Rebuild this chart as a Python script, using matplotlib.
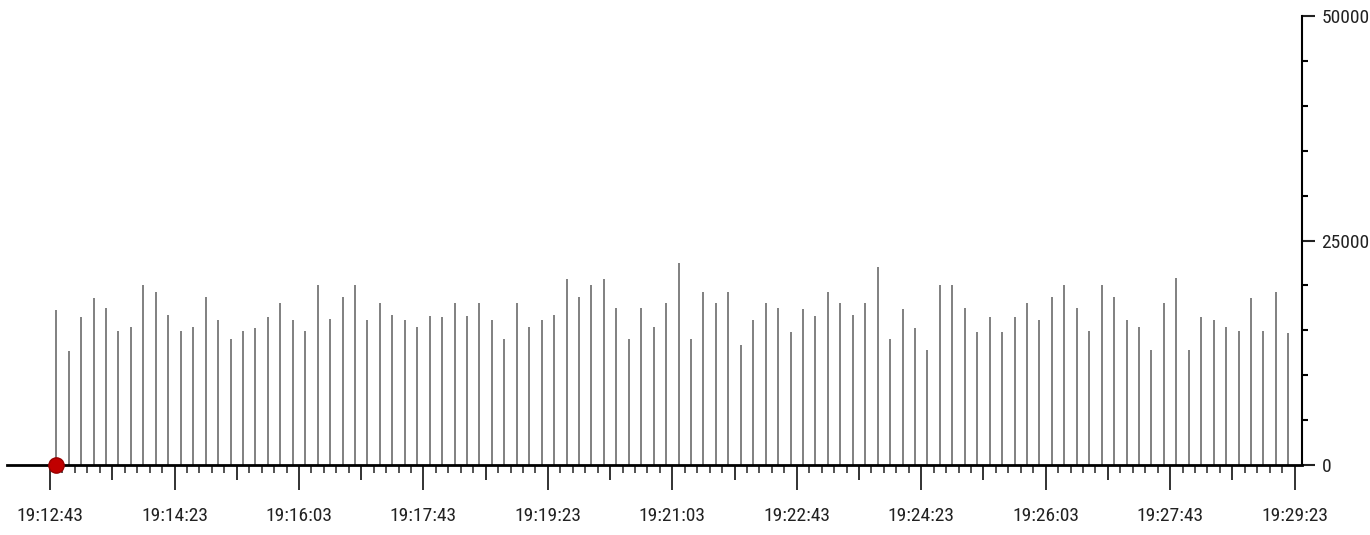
import matplotlib
matplotlib.use('Agg')
import matplotlib.pyplot as plt
from matplotlib.ticker import FixedLocator, MultipleLocator, FuncFormatter
import numpy as np
import pandas as pd

# start of the axis and sample times (one sample every 10 s)
start = pd.Timestamp('2000-01-01 19:12:43')
times = pd.date_range('2000-01-01 19:12:48', periods=100, freq='10s')

values = [17300, 12700, 16500, 18600, 17500, 14900, 15400, 20000, 19300, 16700,
          14900, 15400, 18700, 16100, 14000, 14900, 15300, 16500, 18000, 16100,
          14900, 20000, 16300, 18700, 20000, 16100, 18000, 16700, 16100, 15400,
          16600, 16500, 18000, 16600, 18000, 16100, 14000, 18000, 15400, 16100,
          16700, 20700, 18700, 20000, 20700, 17500, 14000, 17500, 15400, 18000,
          22500, 14000, 19300, 18000, 19300, 13400, 16200, 18000, 17500, 14800,
          17400, 16600, 19300, 18000, 16700, 18000, 22100, 14000, 17400, 15300,
          12800, 20000, 20000, 17500, 14800, 16500, 14800, 16500, 18000, 16100,
          18700, 20100, 17500, 14900, 20100, 18700, 16100, 15400, 12800, 18000,
          20800, 12800, 16500, 16100, 15400, 14900, 18600, 14900, 19300, 14700]

secs = (times - start).total_seconds().values

plt.rcParams['font.family'] = ['Roboto Condensed', 'Archivo Narrow', 'DejaVu Sans']

fig = plt.figure(figsize=(13.7, 5.35), dpi=100)
ax = fig.add_axes([0.0051, 0.1308, 0.9453, 0.8393])

ax.vlines(secs, 0, values, color='#808080', lw=1.4)
ax.plot(secs[0], 0, 'o', ms=11, color='#c00000', mec='#990000', clip_on=False, zorder=5)

ax.set_xlim(-34.6, 1006)
ax.set_ylim(0, 50000)

for s in ['top', 'left']:
    ax.spines[s].set_visible(False)
ax.spines['bottom'].set_linewidth(2)
ax.spines['right'].set_linewidth(1.5)

# x ticks: long every 100 s (labelled), medium every 50 s, short every 10 s
major_locs = np.arange(0, 1001, 50)
ax.xaxis.set_major_locator(FixedLocator(major_locs))
ax.xaxis.set_minor_locator(FixedLocator(np.arange(0, 1001, 10)))

def fmt(x, pos):
    if int(round(x)) % 100 != 0:
        return ''
    t = start + pd.Timedelta(seconds=x)
    return t.strftime('%H:%M:%S')

ax.xaxis.set_major_formatter(FuncFormatter(fmt))
ax.tick_params(axis='x', which='major', length=18, width=1.3, pad=12,
               labelsize=14, colors='#222222')
ax.tick_params(axis='x', which='minor', length=6, width=1.3, colors='#444444')
ticks = ax.xaxis.get_major_ticks(len(major_locs))
for i, t in enumerate(ticks):
    if i % 2 == 1:
        t.tick1line.set_markersize(11)

ax.yaxis.tick_right()
ax.yaxis.set_major_locator(MultipleLocator(25000))
ax.yaxis.set_minor_locator(MultipleLocator(5000))
ax.yaxis.set_major_formatter(FuncFormatter(lambda v, p: '%d' % v))
ax.tick_params(axis='y', which='major', length=9, width=1.5, pad=5, labelsize=14,
               colors='#222222')
ax.tick_params(axis='y', which='minor', length=4, width=1.5)

fig.savefig('out.png', dpi=100)
